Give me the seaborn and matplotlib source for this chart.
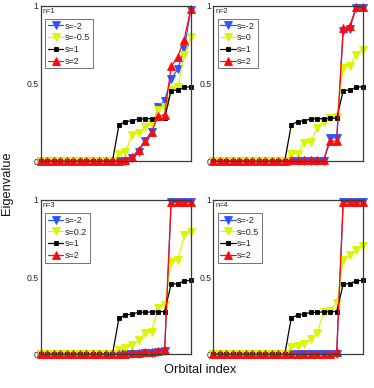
import matplotlib
matplotlib.use("Agg")
import matplotlib.pyplot as plt
import seaborn as sns
import pandas as pd

# ---------------- data ----------------
orbital_index = list(range(1, 25))

s1_black = [0, 0, 0, 0, 0, 0, 0, 0, 0, 0, 0, 0,
            0.235, 0.255, 0.26, 0.272, 0.273, 0.274, 0.276, 0.277, 0.455, 0.458, 0.475, 0.48]

n1_blue = [0, 0, 0, 0, 0, 0, 0, 0, 0, 0, 0, 0,
           0.0, 0.005, 0.02, 0.06, 0.13, 0.19, 0.35, 0.39, 0.53, 0.59, 0.72, 0.97]
n1_yellow = [0, 0, 0, 0, 0, 0, 0, 0, 0, 0, 0, 0,
             0.05, 0.06, 0.17, 0.18, 0.22, 0.24, 0.33, 0.35, 0.46, 0.475, 0.68, 0.80]
n1_red = [0, 0, 0, 0, 0, 0, 0, 0, 0, 0, 0, 0,
          0.005, 0.01, 0.03, 0.07, 0.13, 0.19, 0.29, 0.30, 0.61, 0.67, 0.78, 0.98]

n2_blue = [0, 0, 0, 0, 0, 0, 0, 0, 0, 0, 0, 0,
           0.005, 0.005, 0.005, 0.005, 0.005, 0.005, 0.15, 0.15, 0.84, 0.85, 0.985, 0.985]
n2_yellow = [0, 0, 0, 0, 0, 0, 0, 0, 0, 0, 0, 0,
             0.05, 0.05, 0.12, 0.125, 0.215, 0.25, 0.28, 0.285, 0.60, 0.615, 0.685, 0.715]
n2_red = [0, 0, 0, 0, 0, 0, 0, 0, 0, 0, 0, 0,
          0.01, 0.01, 0.01, 0.01, 0.01, 0.01, 0.13, 0.13, 0.855, 0.87, 0.99, 0.99]

n3_blue = [0, 0, 0, 0, 0, 0, 0, 0, 0, 0, 0, 0,
           0.0, 0.0, 0.005, 0.005, 0.01, 0.01, 0.015, 0.02, 0.985, 0.985, 0.985, 0.985]
n3_yellow = [0, 0, 0, 0, 0, 0, 0, 0, 0, 0, 0, 0,
             0.028, 0.04, 0.06, 0.093, 0.136, 0.146, 0.30, 0.32, 0.60, 0.61, 0.77, 0.795]
n3_red = [0, 0, 0, 0, 0, 0, 0, 0, 0, 0, 0, 0,
          0.005, 0.005, 0.008, 0.01, 0.012, 0.015, 0.02, 0.025, 0.99, 0.99, 0.99, 0.99]

n4_blue = [0, 0, 0, 0, 0, 0, 0, 0, 0, 0, 0, 0,
           0, 0, 0, 0, 0, 0, 0, 0.005, 0.985, 0.985, 0.985, 0.985]
n4_yellow = [0, 0, 0, 0, 0, 0, 0, 0, 0, 0, 0, 0,
             0.05, 0.056, 0.065, 0.097, 0.14, 0.276, 0.283, 0.334, 0.61, 0.643, 0.676, 0.70]
n4_red = [0, 0, 0, 0, 0, 0, 0, 0, 0, 0, 0, 0,
          0.005, 0.005, 0.005, 0.005, 0.005, 0.005, 0.005, 0.015, 0.99, 0.99, 0.99, 0.99]

panel_titles = ["n=1", "n=2", "n=3", "n=4"]
yellow_labels = ["s=-0.5", "s=0", "s=0.2", "s=0.5"]
blue_label, black_label, red_label = "s=-2", "s=1", "s=2"

blue_series = [n1_blue, n2_blue, n3_blue, n4_blue]
yellow_series = [n1_yellow, n2_yellow, n3_yellow, n4_yellow]
red_series = [n1_red, n2_red, n3_red, n4_red]

ytick_vals = [0, 0.5, 1]
ytick_labels = ["0", "0.5", "1"]

# ---------------- style ----------------
sns.set_style("white")
plt.rcParams["font.family"] = ["Liberation Sans", "DejaVu Sans"]

W, H = 374, 388
fig = plt.figure(figsize=(W / 100, H / 100), dpi=100)

# axes boxes in pixel coordinates: (left, top, right, bottom)
boxes = [(40.7, 5.7, 190.7, 161.3), (213.3, 5.7, 362.7, 161.3),
         (40.7, 200.0, 190.7, 354.3), (213.3, 200.0, 362.7, 354.3)]

C_BLUE = "#2a55ff"
C_YEL = "#dcf500"
C_RED = "#ff0a0a"
C_BLK = "#000000"

for k in range(4):
    l, t, r, b = boxes[k]
    ax = fig.add_axes([l / W, 1 - b / H, (r - l) / W, (b - t) / H])
    specs = [
        (blue_series[k], blue_label, C_BLUE, "v", 5.2),
        (yellow_series[k], yellow_labels[k], C_YEL, "v", 5.2),
        (s1_black, black_label, C_BLK, "s", 2.6),
        (red_series[k], red_label, C_RED, "^", 5.2),
    ]
    for vals, lab, col, mk, ms in specs:
        df = pd.DataFrame({"idx": orbital_index, "val": vals})
        sns.lineplot(data=df, x="idx", y="val", ax=ax, color=col, marker=mk,
                     markersize=ms, markeredgecolor=col, markeredgewidth=0.6,
                     linewidth=0.9, label=lab, clip_on=False)
    ax.set_xlim(1, 24)
    ax.set_ylim(0, 1)
    ax.set_xticks([])
    ax.set_yticks(ytick_vals)
    ax.set_yticklabels(ytick_labels)
    ax.tick_params(axis="y", direction="in", length=2, width=0.5, pad=1.5,
                   labelsize=6.2, colors="#222222")
    ax.set_xlabel("")
    ax.set_ylabel("")
    for sp in ax.spines.values():
        sp.set_color("#3a3a3a")
        sp.set_linewidth(0.9)
        sp.set_visible(True)
    ax.text(0.015, 0.985, panel_titles[k], transform=ax.transAxes,
            fontsize=5.3, va="top", ha="left", color="#222222")
    leg = ax.legend(loc="upper left", bbox_to_anchor=(0.03, 0.915),
                    fontsize=6.5, frameon=True, fancybox=False,
                    handlelength=1.7, handletextpad=0.15, labelspacing=0.3,
                    borderpad=0.3, borderaxespad=0.0)
    leg.get_frame().set_edgecolor("#333333")
    leg.get_frame().set_linewidth(0.6)

fig.text(7 / W, 1 - 183 / H, "Eigenvalue", rotation=90, ha="center", va="center",
         fontsize=9.3, color="#111111")
fig.text(200 / W, 1 - 370 / H, "Orbital index", ha="center", va="center",
         fontsize=9.3, color="#111111")

fig.savefig("out.png", dpi=100)
